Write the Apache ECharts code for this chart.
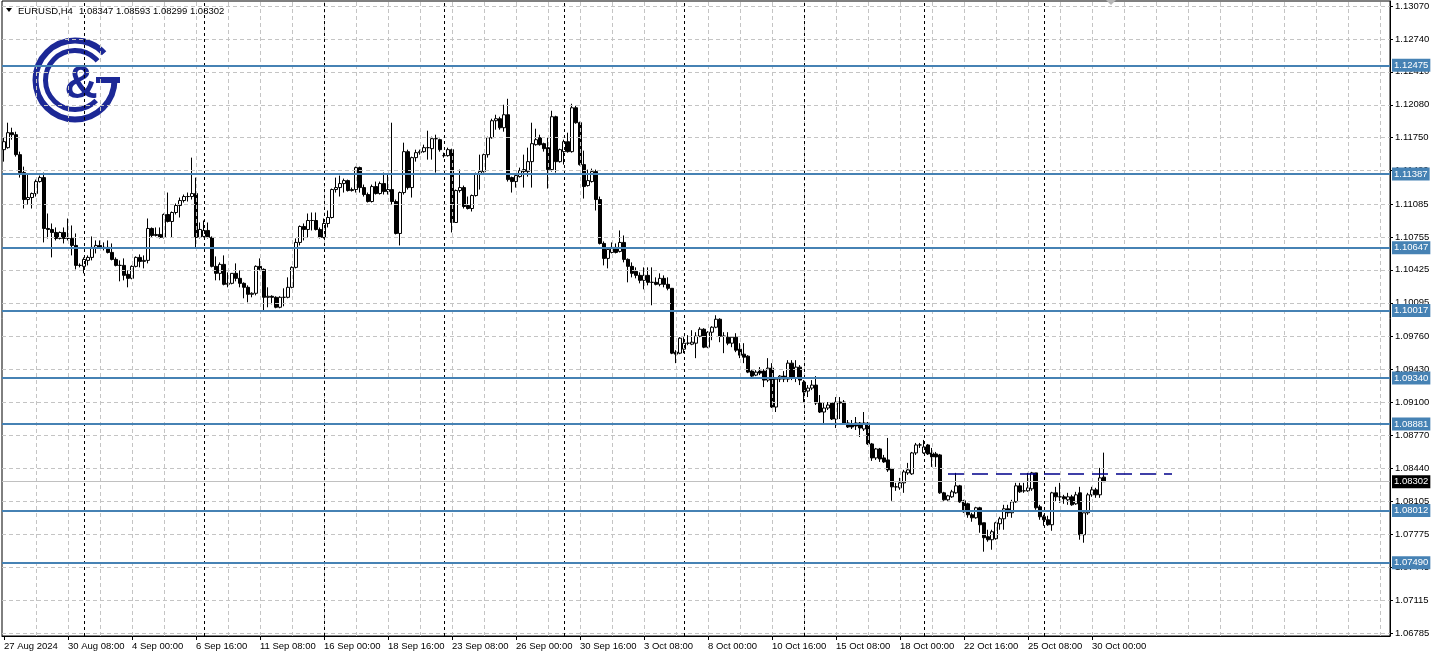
<!DOCTYPE html>
<html><head><meta charset="utf-8">
<script src="https://cdn.jsdelivr.net/npm/echarts@6/dist/echarts.min.js"></script>
<style>html,body{margin:0;padding:0;background:#fff}#c{width:1439px;height:660px}</style>
</head><body><div id="c"></div>
<script>
const FONT = '"Liberation Sans", Arial, sans-serif';
const xTickLabels = ['27 Aug 2024','30 Aug 08:00','4 Sep 00:00','6 Sep 16:00','11 Sep 08:00','16 Sep 00:00','18 Sep 16:00','23 Sep 08:00','26 Sep 00:00','30 Sep 16:00','3 Oct 08:00','8 Oct 00:00','10 Oct 16:00','15 Oct 08:00','18 Oct 00:00','22 Oct 16:00','25 Oct 08:00','30 Oct 00:00'];
const yTicks = [1.13070,1.12740,1.12410,1.12080,1.11750,1.11420,1.11085,1.10755,1.10425,1.10095,1.09760,1.09430,1.09100,1.08770,1.08440,1.08105,1.07775,1.07445,1.07115,1.06785];
const levels = [1.12475,1.11387,1.10647,1.10017,1.09340,1.08881,1.08012,1.07490];
const currentPrice = 1.08302;
const trendPrice = 1.0838, trendStart = 236, trendEnd = 292;
const weekStarts = [20,50,80,110,140,170,200,230,260];

const opens = [1.1163,1.1165,1.1180,1.1178,1.1158,1.1140,1.1113,1.1115,1.1119,1.1131,
1.1135,1.1084,1.1083,1.1080,1.1074,1.1080,1.1074,1.1074,1.1067,1.1047,
1.1046,1.1052,1.1055,1.1065,1.1067,1.1065,1.1065,1.1060,1.1053,1.1047,
1.1047,1.1038,1.1034,1.1046,1.1055,1.1051,1.1052,1.1084,1.1077,1.1078,
1.1075,1.1098,1.1091,1.1100,1.1107,1.1112,1.1116,1.1116,1.1119,1.1075,
1.1076,1.1082,1.1075,1.1046,1.1039,1.1048,1.1028,1.1029,1.1039,1.1034,
1.1029,1.1025,1.1018,1.1019,1.1046,1.1043,1.1015,1.1016,1.1015,1.1005,
1.1015,1.1015,1.1025,1.1045,1.1070,1.1086,1.1083,1.1092,1.1092,1.1083,
1.1075,1.1089,1.1095,1.1123,1.1125,1.1129,1.1132,1.1122,1.1123,1.1145,
1.1125,1.1118,1.1111,1.1126,1.1119,1.1129,1.1121,1.1123,1.1111,1.1079,
1.1120,1.1161,1.1125,1.1155,1.1160,1.1161,1.1165,1.1164,1.1174,1.1173,
1.1157,1.1157,1.1163,1.1090,1.1122,1.1125,1.1107,1.1104,1.1117,1.1139,
1.1141,1.1158,1.1175,1.1192,1.1194,1.1185,1.1198,1.1135,1.1131,1.1136,
1.1141,1.1141,1.1151,1.1168,1.1175,1.1169,1.1165,1.1143,1.1196,1.1151,
1.1161,1.1171,1.1161,1.1205,1.1190,1.1148,1.1127,1.1131,1.1141,1.1113,
1.1069,1.1054,1.1060,1.1065,1.1061,1.1070,1.1053,1.1046,1.1041,1.1037,
1.1032,1.1037,1.1030,1.1030,1.1028,1.1034,1.1028,1.1024,1.0960,1.0959,
1.0963,1.0969,1.0968,1.0969,1.0976,1.0983,1.0965,1.0980,1.0985,1.0993,
1.0976,1.0975,1.0969,1.0975,1.0963,1.0958,1.0956,1.0941,1.0937,1.0941,
1.0941,1.0932,1.0944,1.0905,1.0933,1.0936,1.0933,1.0949,1.0934,1.0945,
1.0930,1.0921,1.0924,1.0927,1.0909,1.0900,1.0904,1.0909,1.0893,1.0910,
1.0910,1.0889,1.0888,1.0889,1.0889,1.0883,1.0889,1.0868,1.0854,1.0863,
1.0854,1.0852,1.0843,1.0825,1.0824,1.0829,1.0839,1.0838,1.0859,1.0867,
1.0859,1.0867,1.0859,1.0858,1.0857,1.0819,1.0812,1.0815,1.0819,1.0826,
1.0811,1.0808,1.0797,1.0794,1.0804,1.0789,1.0775,1.0772,1.0773,1.0788,
1.0793,1.0803,1.0799,1.0810,1.0826,1.0821,1.0821,1.0823,1.0839,1.0805,
1.0795,1.0792,1.0787,1.0819,1.0815,1.0815,1.0812,1.0815,1.0808,1.0819,
1.0777,1.0799,1.0817,1.0822,1.0817,1.08347];
const closes = [1.1171,1.1180,1.1178,1.1158,1.1140,1.1113,1.1115,1.1119,1.1131,1.1135,
1.1084,1.1083,1.1080,1.1074,1.1080,1.1074,1.1074,1.1067,1.1047,1.1047,
1.1053,1.1055,1.1065,1.1067,1.1065,1.1065,1.1060,1.1053,1.1047,1.1047,
1.1037,1.1034,1.1046,1.1055,1.1051,1.1052,1.1084,1.1077,1.1078,1.1075,
1.1098,1.1091,1.1100,1.1107,1.1112,1.1116,1.1116,1.1119,1.1075,1.1083,
1.1082,1.1075,1.1046,1.1039,1.1048,1.1028,1.1029,1.1039,1.1034,1.1029,
1.1025,1.1018,1.1019,1.1046,1.1043,1.1015,1.1016,1.1015,1.1005,1.1015,
1.1015,1.1025,1.1045,1.1070,1.1086,1.1083,1.1092,1.1092,1.1083,1.1075,
1.1089,1.1095,1.1123,1.1125,1.1129,1.1132,1.1122,1.1123,1.1145,1.1125,
1.1118,1.1111,1.1126,1.1119,1.1129,1.1121,1.1123,1.1111,1.1079,1.1120,
1.1161,1.1125,1.1155,1.1160,1.1161,1.1165,1.1165,1.1174,1.1174,1.1163,
1.1157,1.1163,1.1090,1.1122,1.1125,1.1106,1.1104,1.1117,1.1139,1.1141,
1.1158,1.1175,1.1192,1.1194,1.1185,1.1198,1.1133,1.1131,1.1137,1.1142,
1.1143,1.1151,1.1169,1.1173,1.1168,1.1164,1.1143,1.1196,1.1151,1.1163,
1.1171,1.1161,1.1205,1.1190,1.1148,1.1126,1.1132,1.1141,1.1113,1.1069,
1.1054,1.1063,1.1065,1.1060,1.1070,1.1053,1.1046,1.1039,1.1037,1.1032,
1.1037,1.1030,1.1030,1.1028,1.1034,1.1028,1.1024,1.0959,1.0958,1.0974,
1.0969,1.0969,1.0970,1.0976,1.0983,1.0965,1.0980,1.0985,1.0993,1.0976,
1.0976,1.0969,1.0975,1.0962,1.0957,1.0955,1.0940,1.0936,1.0940,1.0939,
1.0932,1.0944,1.0905,1.0933,1.0936,1.0933,1.0949,1.0935,1.0945,1.0932,
1.0920,1.0924,1.0927,1.0909,1.0900,1.0904,1.0907,1.0893,1.0910,1.0909,
1.0889,1.0885,1.0885,1.0886,1.0884,1.0889,1.0868,1.0854,1.0863,1.0853,
1.0850,1.0842,1.0825,1.0825,1.0829,1.0840,1.0842,1.0859,1.0867,1.0867,
1.0865,1.0858,1.0855,1.0855,1.0819,1.0812,1.0816,1.0820,1.0826,1.0810,
1.0800,1.0797,1.0794,1.0804,1.0787,1.0774,1.0772,1.0780,1.0789,1.0793,
1.0803,1.0799,1.0810,1.0826,1.0820,1.0821,1.0824,1.0839,1.0804,1.0795,
1.0792,1.0787,1.0819,1.0815,1.0815,1.0813,1.0815,1.0807,1.0817,1.0777,
1.0799,1.0817,1.0822,1.0817,1.0834,1.08302];
const lows = [1.1151,1.1164,1.1173,1.1156,1.1135,1.1104,1.1108,1.1104,1.1116,1.1130,
1.1070,1.1074,1.1055,1.1072,1.1073,1.1069,1.1072,1.1057,1.1043,1.1045,
1.1039,1.1047,1.1052,1.1059,1.1064,1.1062,1.1059,1.1052,1.1046,1.1031,
1.1032,1.1025,1.1033,1.1045,1.1045,1.1044,1.1049,1.1075,1.1076,1.1074,
1.1074,1.1090,1.1075,1.1098,1.1095,1.1110,1.1111,1.1113,1.1065,1.1074,
1.1075,1.1074,1.1045,1.1032,1.1032,1.1027,1.1025,1.1028,1.1031,1.1025,
1.1014,1.1010,1.1015,1.1017,1.1042,1.1002,1.1005,1.1008,1.1004,1.1004,
1.1006,1.1014,1.1024,1.1044,1.1067,1.1072,1.1075,1.1082,1.1082,1.1074,
1.1074,1.1085,1.1094,1.1120,1.1116,1.1120,1.1121,1.1121,1.1120,1.1120,
1.1116,1.1110,1.1110,1.1118,1.1118,1.1118,1.1118,1.1108,1.1078,1.1067,
1.1118,1.1123,1.1115,1.1151,1.1158,1.1160,1.1153,1.1153,1.1140,1.1161,
1.1155,1.1156,1.1080,1.1090,1.1120,1.1104,1.1103,1.1101,1.1116,1.1123,
1.1140,1.1155,1.1174,1.1183,1.1183,1.1181,1.1131,1.1120,1.1125,1.1135,
1.1125,1.1136,1.1125,1.1167,1.1167,1.1161,1.1124,1.1141,1.1140,1.1150,
1.1148,1.1160,1.1160,1.1189,1.1147,1.1114,1.1126,1.1130,1.1102,1.1068,
1.1047,1.1044,1.1059,1.1059,1.1060,1.1050,1.1030,1.1035,1.1034,1.1029,
1.1023,1.1027,1.1007,1.1027,1.1026,1.1025,1.1022,1.0958,1.0949,1.0958,
1.0959,1.0967,1.0967,1.0954,1.0975,1.0964,1.0964,1.0972,1.0984,1.0970,
1.0959,1.0967,1.0965,1.0960,1.0954,1.0949,1.0939,1.0935,1.0936,1.0937,
1.0925,1.0930,1.0904,1.0900,1.0930,1.0930,1.0930,1.0932,1.0930,1.0927,
1.0909,1.0915,1.0922,1.0907,1.0899,1.0888,1.0902,1.0892,1.0884,1.0893,
1.0888,1.0884,1.0883,1.0882,1.0875,1.0881,1.0867,1.0851,1.0852,1.0850,
1.0849,1.0840,1.0811,1.0821,1.0822,1.0819,1.0837,1.0837,1.0857,1.0864,
1.0858,1.0857,1.0845,1.0845,1.0818,1.0811,1.0811,1.0814,1.0818,1.0809,
1.0799,1.0794,1.0790,1.0793,1.0779,1.0760,1.0770,1.0762,1.0772,1.0782,
1.0782,1.0795,1.0794,1.0809,1.0819,1.0819,1.0820,1.0821,1.0802,1.0792,
1.0786,1.0786,1.0781,1.0810,1.0809,1.0808,1.0807,1.0806,1.0807,1.0772,
1.0769,1.0797,1.0815,1.0814,1.0814,1.08299];
const highs = [1.1175,1.1190,1.1185,1.1181,1.1161,1.1146,1.1138,1.1120,1.1133,1.1137,
1.1140,1.1099,1.1089,1.1085,1.1081,1.1085,1.1094,1.1087,1.1079,1.1049,
1.1055,1.1057,1.1076,1.1072,1.1072,1.1070,1.1072,1.1069,1.1055,1.1052,
1.1054,1.1042,1.1047,1.1056,1.1058,1.1057,1.1094,1.1085,1.1085,1.1085,
1.1099,1.1120,1.1101,1.1109,1.1115,1.1118,1.1120,1.1155,1.1135,1.1090,
1.1092,1.1090,1.1076,1.1056,1.1050,1.1057,1.1040,1.1039,1.1049,1.1042,
1.1030,1.1027,1.1020,1.1047,1.1054,1.1044,1.1025,1.1017,1.1016,1.1016,
1.1024,1.1035,1.1046,1.1074,1.1087,1.1089,1.1099,1.1100,1.1100,1.1085,
1.1094,1.1102,1.1124,1.1135,1.1137,1.1134,1.1133,1.1125,1.1146,1.1146,
1.1128,1.1120,1.1128,1.1131,1.1131,1.1140,1.1139,1.1190,1.1113,1.1121,
1.1170,1.1163,1.1156,1.1163,1.1163,1.1168,1.1182,1.1176,1.1178,1.1174,
1.1160,1.1165,1.1164,1.1123,1.1143,1.1127,1.1116,1.1118,1.1140,1.1158,
1.1159,1.1176,1.1194,1.1198,1.1196,1.1208,1.1214,1.1136,1.1139,1.1145,
1.1158,1.1165,1.1190,1.1184,1.1178,1.1170,1.1175,1.1202,1.1197,1.1164,
1.1173,1.1180,1.1209,1.1207,1.1191,1.1162,1.1143,1.1144,1.1143,1.1116,
1.1071,1.1065,1.1070,1.1069,1.1082,1.1077,1.1054,1.1050,1.1045,1.1040,
1.1045,1.1045,1.1045,1.1035,1.1039,1.1037,1.1035,1.1024,1.0962,1.0975,
1.0975,1.0977,1.0982,1.0980,1.0985,1.0984,1.0981,1.0986,1.0997,1.0994,
1.0980,1.0980,1.0975,1.0979,1.0969,1.0969,1.0957,1.0942,1.0942,1.0945,
1.0943,1.0954,1.0949,1.0934,1.0937,1.0941,1.0952,1.0952,1.0952,1.0947,
1.0932,1.0927,1.0932,1.0936,1.0917,1.0909,1.0910,1.0910,1.0915,1.0915,
1.0912,1.0892,1.0892,1.0895,1.0890,1.0900,1.0890,1.0869,1.0864,1.0864,
1.0857,1.0874,1.0844,1.0829,1.0834,1.0842,1.0849,1.0860,1.0869,1.0869,
1.0872,1.0868,1.0864,1.0860,1.0858,1.0820,1.0817,1.0822,1.0839,1.0827,
1.0812,1.0809,1.0799,1.0805,1.0805,1.0789,1.0782,1.0782,1.0790,1.0795,
1.0807,1.0807,1.0812,1.0829,1.0829,1.0829,1.0839,1.0840,1.0839,1.0807,
1.0797,1.0796,1.0820,1.0825,1.0829,1.0817,1.0819,1.0817,1.0820,1.0825,
1.0799,1.0819,1.0825,1.0824,1.0844,1.08593];

const N = 347;
const categories = Array.from({length: N}, (_, i) =>
  (i % 16 === 0 && i / 16 < xTickLabels.length) ? xTickLabels[i / 16] : String(i));
const isTick = (i) => i % 16 === 0 && i / 16 < xTickLabels.length;
const candleData = opens.map((o, i) => [o, closes[i], lows[i], highs[i]]);

const gridLineStyle = {color: '#c4c4c4', type: [4, 3], width: 1};
const gridMarks = [];
yTicks.forEach(v => gridMarks.push({yAxis: v, lineStyle: gridLineStyle}));
for (let k = 1; k * 8 < N; k++) gridMarks.push({xAxis: k * 8, lineStyle: gridLineStyle});
weekStarts.forEach(i => gridMarks.push({xAxis: i, lineStyle: {color: '#000', type: [3, 3], width: 1}}));
gridMarks.push({yAxis: currentPrice, lineStyle: {color: '#c0c0c0', type: 'solid', width: 1},
  label: {show: true, position: 'end', distance: 2, formatter: () => currentPrice.toFixed(5),
    backgroundColor: '#000', color: '#fff', padding: [2, 2, 1, 2], fontSize: 9.5, fontFamily: FONT}});

const levelMarks = levels.map(v => ({yAxis: v, lineStyle: {color: '#4682b4', width: 2, type: 'solid'},
  label: {show: true, position: 'end', distance: 2, formatter: () => v.toFixed(5),
    backgroundColor: '#4682b4', color: '#fff', padding: [2, 2, 1, 2], fontSize: 9.5, fontFamily: FONT}}));
levelMarks.push([{coord: [trendStart, trendPrice], lineStyle: {color: '#00008b', width: 1.5, type: [16, 8]}},
                 {coord: [trendEnd, trendPrice]}]);

const LOGO = '#1c2896';
const chart = echarts.init(document.getElementById('c'), null, {renderer: 'canvas'});
chart.setOption({
  animation: false,
  backgroundColor: '#fff',
  grid: {left: 2, right: 49, top: 1, bottom: 24, show: true, borderColor: '#000', borderWidth: 1},
  xAxis: {
    type: 'category', data: categories, boundaryGap: true,
    axisLine: {show: true, lineStyle: {color: '#000'}},
    axisTick: {show: true, interval: isTick, alignWithLabel: true, length: 4, lineStyle: {color: '#000'}},
    axisLabel: {interval: isTick, align: 'left', margin: 5, color: '#000', fontSize: 9.5, fontFamily: FONT},
    splitLine: {show: false}
  },
  yAxis: {
    type: 'value', position: 'right', min: 1.067549, max: 1.131201,
    axisLine: {show: true, lineStyle: {color: '#000'}},
    axisTick: {show: true, customValues: yTicks, length: 3, lineStyle: {color: '#000'}},
    axisLabel: {customValues: yTicks, formatter: v => v.toFixed(5), margin: 5, color: '#000', fontSize: 9.5, fontFamily: FONT},
    splitLine: {show: false}
  },
  graphic: [
    {type: 'arc', z: 0, shape: {cx: 75, cy: 80, r: 39.5, startAngle: 0, endAngle: 5.54, clockwise: true},
      style: {stroke: LOGO, lineWidth: 6, fill: null}},
    {type: 'line', z: 0, shape: {x1: 96, y1: 80, x2: 120, y2: 80}, style: {stroke: LOGO, lineWidth: 6}},
    {type: 'arc', z: 0, shape: {cx: 75, cy: 80, r: 29.5, startAngle: 0.77, endAngle: 5.58, clockwise: true},
      style: {stroke: LOGO, lineWidth: 5, fill: null}},
    {type: 'text', z: 0, style: {text: '&', x: 81, y: 85, font: 'bold 46px "Liberation Sans", Arial', fill: LOGO,
      align: 'center', verticalAlign: 'middle'}},
    {type: 'polygon', z: 10, shape: {points: [[6, 8], [12, 8], [9, 12]]}, style: {fill: '#000'}},
    {type: 'text', z: 10, style: {text: 'EURUSD,H4', x: 18, y: 11, font: '9.5px "Liberation Sans", Arial', fill: '#000', verticalAlign: 'middle'}},
    {type: 'text', z: 10, style: {text: '1.08347 1.08593 1.08299 1.08302', x: 79, y: 11, font: '9.5px "Liberation Sans", Arial', fill: '#000', verticalAlign: 'middle'}},
    {type: 'polygon', z: 10, shape: {points: [[1106, 0], [1116, 0], [1111, 5]]}, style: {fill: '#b8b8b8'}}
  ],
  series: [
    {type: 'line', data: [], z: 1, silent: true,
      markLine: {silent: true, symbol: 'none', precision: 6, animation: false, label: {show: false}, data: gridMarks}},
    {type: 'candlestick', data: candleData, barWidth: 3, z: 2, silent: true,
      itemStyle: {color: '#fff', color0: '#000', borderColor: '#000', borderColor0: '#000', borderColorDoji: '#000', borderWidth: 1}},
    {type: 'line', data: [], z: 4, silent: true,
      markLine: {silent: true, symbol: 'none', precision: 6, animation: false, label: {show: false}, data: levelMarks}}
  ]
});
</script></body></html>
